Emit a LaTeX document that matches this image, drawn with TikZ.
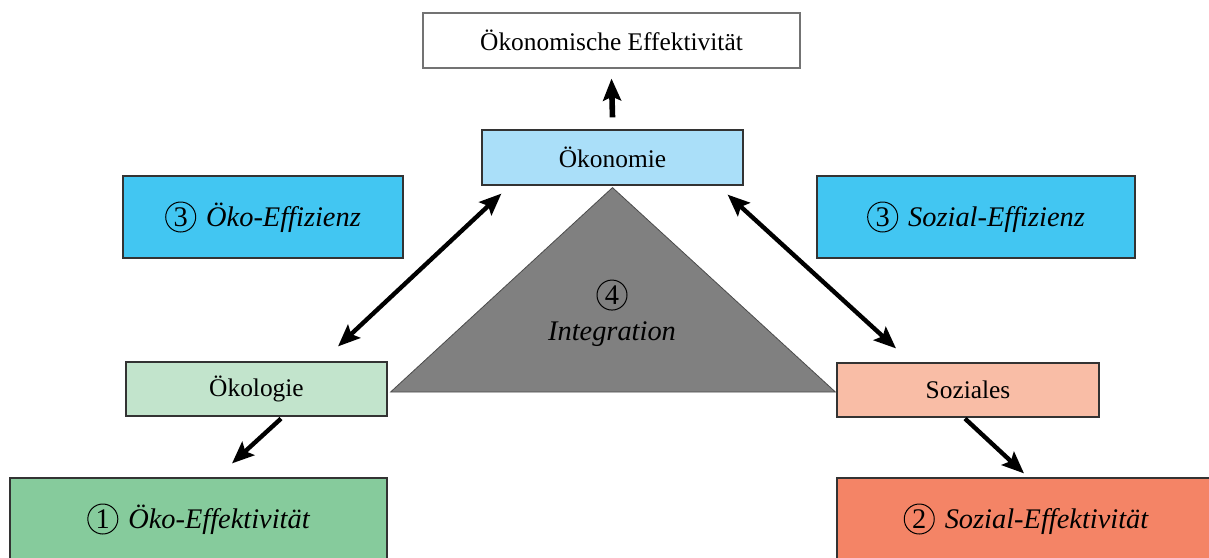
\documentclass[tikz,border=0pt]{standalone}
\usepackage{fontspec}
\setmainfont{Liberation Serif}
\usetikzlibrary{calc}
\usetikzlibrary{arrows.meta}

\definecolor{oekonblue}{RGB}{170,223,249}
\definecolor{effizblue}{RGB}{66,198,242}
\definecolor{oekolgreen}{RGB}{194,228,204}
\definecolor{effektgreen}{RGB}{134,203,156}
\definecolor{sozlight}{RGB}{249,189,166}
\definecolor{sozdark}{RGB}{244,132,102}
\definecolor{integgray}{RGB}{128,128,128}

\newcommand{\cnum}[1]{\tikz[baseline=(n.base)]\node[circle,draw,line width=0.5pt,inner sep=0pt,minimum size=15pt,font=\upshape](n){#1};}

\begin{document}
\begin{tikzpicture}[x=0.5pt,y=-0.5pt,
    box/.style={draw=black!80,line width=0.6pt,inner sep=0pt,font=\fontsize{12.7}{15}\selectfont},
    effbox/.style={box,minimum height=41pt,font=\fontsize{14.2}{17}\selectfont\itshape},
    link/.style={line width=2.2pt,{Stealth[length=11pt,width=9pt,inset=2pt]}-{Stealth[length=11pt,width=9pt,inset=2pt]}},
    flow/.style={line width=2.2pt,-{Stealth[length=11pt,width=9pt,inset=2pt]}}]
    \useasboundingbox (0,0) rectangle (1209,557);
    \clip (0,0) rectangle (1209,557);
    \node[box,fill=white,draw=black!55,minimum width=188.5pt,minimum height=27.5pt] (oekeff) at (611.5,40.5) {Ökonomische Effektivität};
    \node[box,fill=oekonblue,minimum width=130.5pt,minimum height=27.5pt] (oekonomie) at (612.5,157.5) {Ökonomie};
    \node[effbox,fill=effizblue,minimum width=140pt] (oekoeffiz) at (263,217) {\cnum{3}\hspace{5pt}Öko-Effizienz};
    \node[effbox,fill=effizblue,minimum width=159pt] (sozeffiz) at (976,217) {\cnum{3}\hspace{5pt}Sozial-Effizienz};
    \node[box,fill=oekolgreen,minimum width=130.5pt,minimum height=27pt] (oekologie) at (256.5,389) {Ökologie};
    \node[box,fill=sozlight,minimum width=131pt,minimum height=27pt] (soziales) at (968,390) {Soziales};
    \node[effbox,fill=effektgreen,minimum width=188.5pt] (oekoeffekt) at (198.5,519) {\cnum{1}\hspace{5pt}Öko-Effektivität};
    \node[effbox,fill=sozdark,minimum width=189pt] (sozeffekt) at (1026,519) {\cnum{2}\hspace{5pt}Sozial-Effektivität};
    % Integrationsdreieck
    \draw[fill=integgray,draw=black!70,line width=0.4pt] ([shift={(0,2)}]oekonomie.south) -- ([shift={(3,3)}]oekologie.east) -- ([shift={(-1,2)}]soziales.west) -- cycle;
    \node[align=center,font=\fontsize{14.2}{17}\selectfont] (integ) at (612,313) {\cnum{4}\\[1pt]\textit{Integration}};
    % Pfeile
    \draw[flow,line width=2.8pt] ([shift={(0,-12)}]oekonomie.north) -- ([shift={(0,10)}]oekeff.south);
    \draw[link] ([shift={(81.5,-15)}]oekologie.north) -- ([shift={(20,8)}]oekonomie.south west);
    \draw[link] ([shift={(-16,9)}]oekonomie.south east) -- ([shift={(-72,-14)}]soziales.north);
    \draw[flow] ([shift={(24.5,2)}]oekologie.south) -- ([shift={(33.5,-14)}]oekoeffekt.north);
    \draw[flow] ([shift={(-3,1)}]soziales.south) -- ([shift={(-2,-4)}]sozeffekt.north);
\end{tikzpicture}
\end{document}
